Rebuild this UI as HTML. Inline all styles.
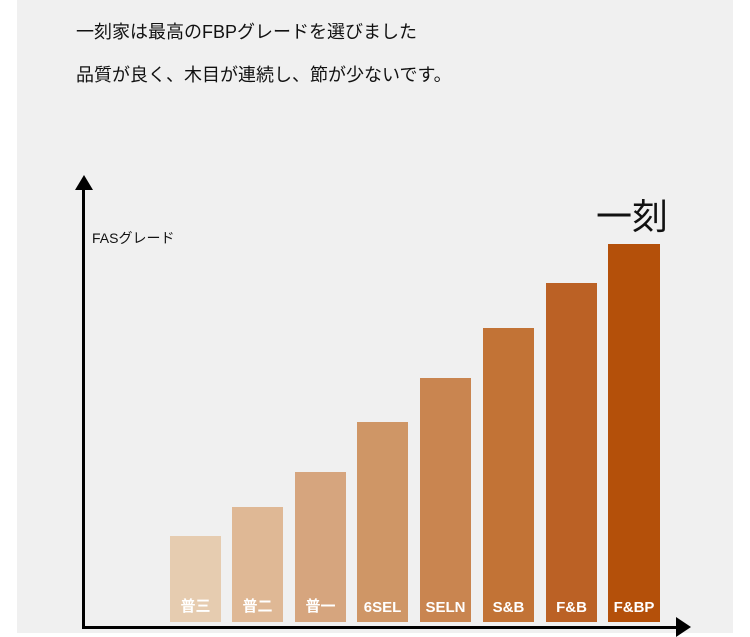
<!DOCTYPE html><html><head><meta charset="utf-8"><style>
body{margin:0;width:750px;height:633px;background:#fff;overflow:hidden;font-family:"Liberation Sans","Noto Sans CJK JP",sans-serif}
.bg{position:absolute;left:17px;top:0;width:716px;height:633px;background:#f0f0f0}
.t{position:absolute;left:76px;font-size:18px;color:#111}
.b{position:absolute;bottom:11px;width:51px;color:#fff;font-weight:bold;font-size:15px;text-align:center;box-sizing:border-box;padding-top:0}
.b span{position:absolute;bottom:6px;left:0;right:0}
</style></head><body><div class="bg"></div>
<div class="t" style="top:18px">一刻家は最高のFBPグレードを選びました</div>
<div class="t" style="top:61px">品質が良く、木目が連続し、節が少ないです。</div>
<div style="position:absolute;left:92px;top:228px;font-size:14px;color:#111">FASグレード</div>
<div style="position:absolute;left:596px;top:188px;font-size:36px;color:#111">一刻</div>
<div style="position:absolute;left:82px;top:188px;width:3px;height:440px;background:#000"></div>
<div style="position:absolute;left:75px;top:175px;border-left:9px solid transparent;border-right:9px solid transparent;border-bottom:15px solid #000"></div>
<div style="position:absolute;left:82px;top:626px;width:600px;height:3px;background:#000"></div>
<div style="position:absolute;left:676px;top:617px;border-top:10px solid transparent;border-bottom:10px solid transparent;border-left:15px solid #000"></div>
<div class="b" style="left:170px;height:86px;background:#e6ccb0"><span>普三</span></div>
<div class="b" style="left:232px;height:115px;background:#dfb895"><span>普二</span></div>
<div class="b" style="left:295px;height:150px;background:#d6a57e"><span>普一</span></div>
<div class="b" style="left:357px;height:200px;background:#cf9666"><span>6SEL</span></div>
<div class="b" style="left:420px;height:244px;background:#c98550"><span>SELN</span></div>
<div class="b" style="left:483px;height:294px;background:#c27336"><span>S&amp;B</span></div>
<div class="b" style="left:546px;height:339px;background:#bb6125"><span>F&amp;B</span></div>
<div class="b" style="left:608px;height:378px;width:52px;background:#b4500a"><span>F&amp;BP</span></div>
</body></html>
